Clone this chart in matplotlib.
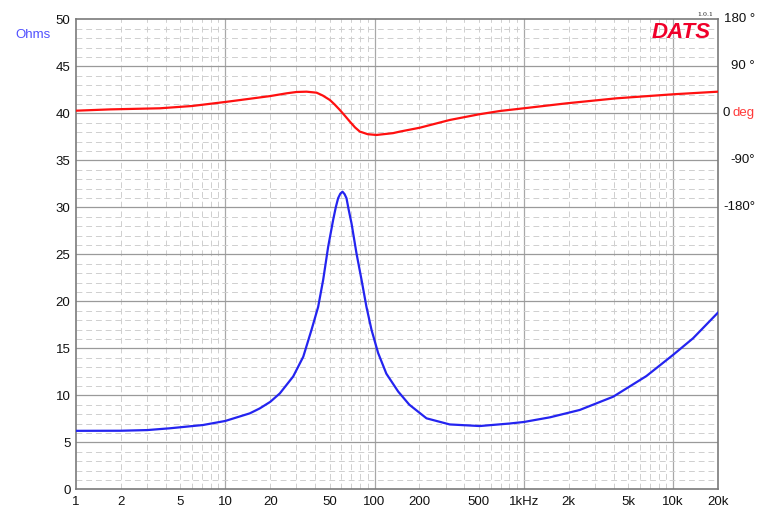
import numpy as np
import matplotlib.pyplot as plt
from matplotlib.ticker import FixedLocator, FixedFormatter, NullLocator

# impedance magnitude (ohms)
imp_freq = [1, 2, 3, 4.25, 7.1, 10, 14.6, 17, 20, 23.2, 28.5, 33.3, 37.8, 41.9, 45.3,
            48.9, 52.8, 55, 57, 59, 61, 63, 64.9, 67, 70.1, 75.7, 81.8, 88.3, 95.5,
            105.7, 120, 144, 171, 223, 319, 507, 805, 1000, 1500, 2370, 3970, 6630,
            10000, 13600, 20000]
imp_ohms = [6.22, 6.23, 6.3, 6.49, 6.84, 7.27, 8.08, 8.6, 9.3, 10.2, 12.0, 14.1, 16.95,
            19.4, 22.3, 25.8, 28.65, 30.0, 30.96, 31.45, 31.66, 31.4, 30.96, 29.8, 28.3,
            25.1, 22.3, 19.4, 16.95, 14.5, 12.3, 10.4, 9.0, 7.55, 6.9, 6.73, 7.0, 7.16,
            7.66, 8.44, 9.85, 12.05, 14.3, 16.06, 18.8]

# impedance phase (degrees)
ph_freq = [1, 1.7, 3.65, 6, 10.2, 15.4, 20, 25.8, 30, 35, 40.9, 45, 50.2, 54, 58.6,
           63, 68.4, 74, 79.7, 90, 103, 133, 148, 201, 319, 500, 691, 1000, 1933,
           4180, 10000, 20000]
ph_deg = [5, 7.5, 9.6, 14, 22, 28.7, 33, 38.3, 40.8, 41.4, 39.5, 34, 25.5, 17, 6.3,
          -4, -16, -27, -35, -40, -41.5, -38, -35, -27.6, -12.8, -2, 4.4, 9.6, 19.1,
          28.7, 36.4, 41.4]

xtick_vals = [1, 2, 5, 10, 20, 50, 100, 200, 500, 1000, 2000, 5000, 10000, 20000]
xtick_labels = ["1", "2", "5", "10", "20", "50", "100", "200", "500", "1kHz",
                "2k", "5k", "10k", "20k"]
ytick_vals = [0, 5, 10, 15, 20, 25, 30, 35, 40, 45, 50]
deg_vals = [180, 90, -90, -180]
deg_labels = ["180 °", "90 °", "-90°", "-180°"]

plt.rcParams["font.family"] = ["Liberation Sans", "DejaVu Sans"]

fig = plt.figure(figsize=(7.68, 5.17), dpi=100)
ax = fig.add_axes([76 / 768, 1 - 489.3 / 517, (718 - 76) / 768, (489.3 - 19.3) / 517])

ax.set_xscale("log")
ax.set_xlim(1, 20000)
ax.set_ylim(0, 50)

# grid lines
dash = (0, (6, 4))
for d in [1, 10, 100, 1000, 10000]:
    for m in range(1, 10):
        f = d * m
        if f <= 1 or f >= 20000:
            continue
        if m == 1:
            ax.axvline(f, color="#a8a8a8", lw=0.9, zorder=1)
        else:
            ax.axvline(f, color="#cfcfcf", lw=0.7, ls=dash, zorder=1)
for v in range(1, 50):
    if v % 5 == 0:
        ax.axhline(v, color="#9a9a9a", lw=0.9, zorder=1)
    else:
        ax.axhline(v, color="#cfcfcf", lw=0.7, ls=dash, zorder=1)

ax.plot(imp_freq, imp_ohms, color="#2424f0", lw=1.6, zorder=3)

ax.xaxis.set_major_locator(FixedLocator(xtick_vals))
ax.xaxis.set_major_formatter(FixedFormatter(xtick_labels))
ax.xaxis.set_minor_locator(NullLocator())
ax.set_yticks(ytick_vals)
ax.tick_params(axis="both", length=0, labelsize=9.5, colors="#111111")
ax.tick_params(axis="x", pad=5)
ax.tick_params(axis="y", pad=4)
for s in ax.spines.values():
    s.set_color("#7a7a7a")
    s.set_linewidth(1.2)

# phase on a twin axis: 0 deg sits at 40 ohms, 90 deg per 5 ohms
ax2 = ax.twinx()
ax2.set_ylim(-720, 180)
ax2.plot(ph_freq, ph_deg, color="#ff1010", lw=1.6, zorder=3)
ax2.set_yticks([])
for s in ax2.spines.values():
    s.set_visible(False)

# right-hand degree labels, right aligned near the figure edge
for v, lab in zip(deg_vals, deg_labels):
    ax2.annotate(lab, xy=(1, v), xycoords=("axes fraction", "data"),
                 xytext=(37 * 0.72, 0), textcoords="offset points",
                 ha="right", va="center", fontsize=9.5, color="#111111",
                 annotation_clip=False)
ax2.annotate("deg", xy=(1, 0), xycoords=("axes fraction", "data"),
             xytext=(37 * 0.72, 0), textcoords="offset points",
             ha="right", va="center", fontsize=9.5, color="#ff3a3a")
ax2.annotate("0", xy=(1, 0), xycoords=("axes fraction", "data"),
             xytext=(11.5 * 0.72, 0), textcoords="offset points",
             ha="right", va="center", fontsize=9.5, color="#111111")

fig.text(15 / 768, 1 - 35 / 517, "Ohms", color="#5050ff", fontsize=9.5,
         ha="left", va="center")
fig.text(711 / 768, 1 - 32.5 / 517, "DATS", color="#f0002a", fontsize=16,
         fontweight="bold", fontstyle="italic", ha="right", va="center")
fig.text(713 / 768, 1 - 14.5 / 517, "1.0.1", color="#222222", fontsize=4.5,
         family="DejaVu Serif", ha="right", va="center")

fig.savefig("out.png", dpi=100)
